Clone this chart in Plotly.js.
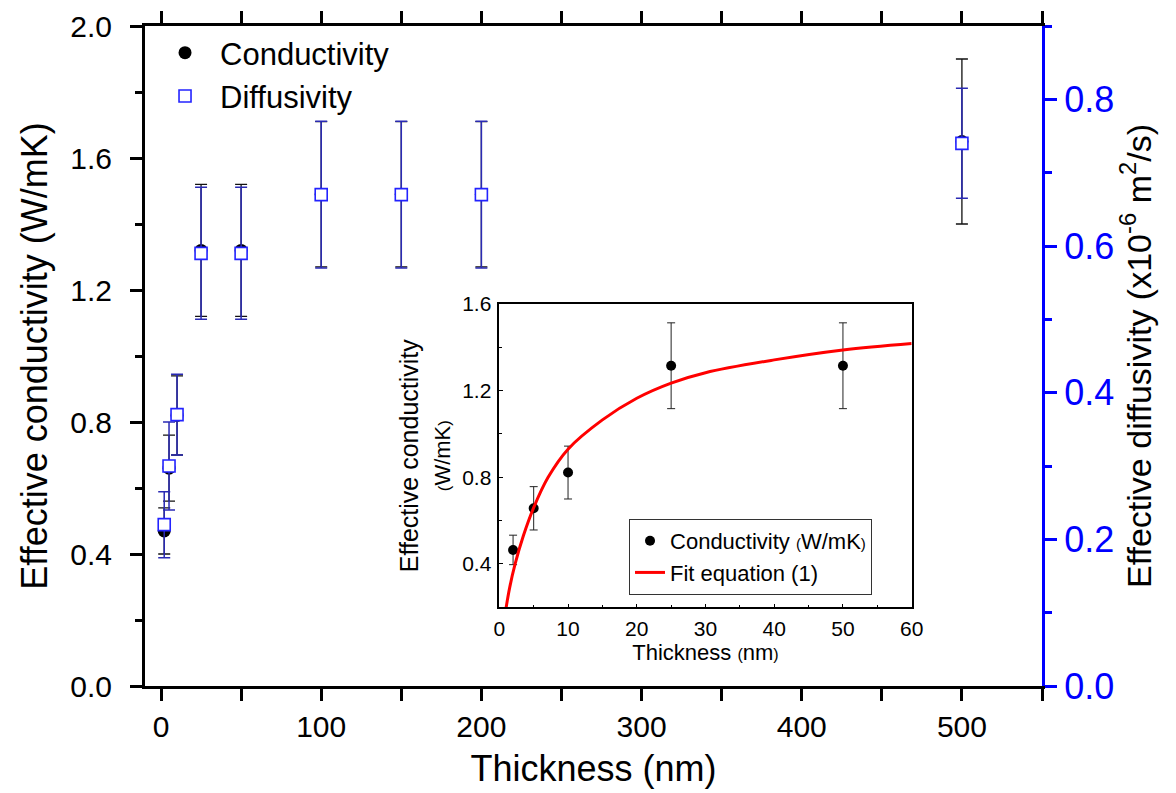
<!DOCTYPE html>
<html>
<head>
<meta charset="utf-8">
<script src="https://cdn.plot.ly/plotly-3.0.1.min.js"></script>
<style>
html,body{margin:0;padding:0;background:#fff;}
#chart{width:1176px;height:793px;}
</style>
</head>
<body>
<div id="chart"></div>
<script>
// ---- Main chart data ----
const thickness = [2, 5, 10, 25, 50, 100, 150, 200, 500];
const conductivity = [0.47, 0.66, 0.82, 1.32, 1.32, 1.49, 1.49, 1.49, 1.65];
const conductivityErr = [0.07, 0.10, 0.12, 0.20, 0.20, 0.22, 0.22, 0.22, 0.25];
const diffusivity = [0.22, 0.30, 0.37, 0.59, 0.59, 0.67, 0.67, 0.67, 0.74];
const diffusivityErr = [0.045, 0.06, 0.055, 0.09, 0.09, 0.10, 0.10, 0.10, 0.075];

// ---- Inset data ----
const insetThickness = [2, 5, 10, 25, 50];
const insetConductivity = [0.465, 0.657, 0.822, 1.315, 1.315];
const insetErr = [0.068, 0.10, 0.122, 0.198, 0.198];
const fitThickness = [1.0, 1.5, 2.3, 3.5, 5, 7.1, 10, 15, 20, 25, 30, 40, 50, 60];
const fitConductivity = [0.20, 0.29, 0.40, 0.53, 0.66, 0.80, 0.93, 1.065, 1.165, 1.235, 1.283, 1.342, 1.388, 1.418];

// ---- Tick labels ----
const xTicks = [0, 100, 200, 300, 400, 500];
const yLeftTicks = [0.0, 0.4, 0.8, 1.2, 1.6, 2.0];
const yRightTicks = [0.0, 0.2, 0.4, 0.6, 0.8];
const insetXTicks = [0, 10, 20, 30, 40, 50, 60];
const insetYTicks = [0.4, 0.8, 1.2, 1.6];

const FONT = '"Liberation Sans", Arial, sans-serif';
const sp = (t, s) => '<span style="font-size:' + s + 'px">' + t + '</span>';

const traces = [
  {
    x: thickness, y: conductivity, name: 'Conductivity', type: 'scatter', mode: 'markers',
    xaxis: 'x', yaxis: 'y', legend: 'legend',
    marker: {symbol: 'circle', size: 13, color: '#000'},
    error_y: {type: 'data', array: conductivityErr, visible: true, color: '#111', thickness: 1.3, width: 6}
  },
  {
    x: thickness, y: diffusivity, name: 'Diffusivity', type: 'scatter', mode: 'markers',
    xaxis: 'x', yaxis: 'y2', legend: 'legend',
    marker: {symbol: 'square', size: 12, color: '#fff', line: {color: '#2323ff', width: 1.6}},
    error_y: {type: 'data', array: diffusivityErr, visible: true, color: '#2a2ab4', thickness: 1.5, width: 6}
  },
  {
    x: insetThickness, y: insetConductivity, type: 'scatter', mode: 'markers',
    name: 'Conductivity ' + sp('(', 15) + 'W/mK' + sp(')', 15),
    xaxis: 'x2', yaxis: 'y3', legend: 'legend2',
    marker: {symbol: 'circle', size: 10, color: '#000'},
    error_y: {type: 'data', array: insetErr, visible: true, color: '#222', thickness: 1, width: 4}
  },
  {
    x: fitThickness, y: fitConductivity, type: 'scatter', mode: 'lines',
    name: 'Fit equation (1)',
    xaxis: 'x2', yaxis: 'y3', legend: 'legend2',
    line: {color: '#ff0000', width: 3, shape: 'spline'}
  }
];

const mainAxisCommon = {
  showgrid: false, zeroline: false, showline: true, linewidth: 3,
  ticks: 'outside', ticklen: 12, tickwidth: 2.5,
  tickfont: {family: FONT, size: 30, color: '#000'}
};

const layout = {
  width: 1176, height: 793,
  margin: {l: 145, r: 134, t: 26, b: 107},
  paper_bgcolor: '#fff', plot_bgcolor: '#fff',
  font: {family: FONT, color: '#000'},
  showlegend: true,
  xaxis: Object.assign({}, mainAxisCommon, {
    range: [-10, 550], linecolor: '#000', tickcolor: '#000', mirror: 'allticks',
    tickmode: 'array', tickvals: xTicks, ticktext: xTicks.map(String),
    minor: {dtick: 50, tick0: 0, ticks: 'outside', ticklen: 7, tickwidth: 2.5, tickcolor: '#000'},
    ticklabelstandoff: 0,
    title: {text: 'Thickness (nm)', font: {family: FONT, size: 36, color: '#000'}, standoff: 14}
  }),
  yaxis: Object.assign({}, mainAxisCommon, {
    range: [0, 2.0], linecolor: '#000', tickcolor: '#000',
    tickmode: 'array', tickvals: yLeftTicks, ticktext: yLeftTicks.map(v => v.toFixed(1)),
    minor: {dtick: 0.2, tick0: 0, ticks: 'outside', ticklen: 7, tickwidth: 2.5, tickcolor: '#000'},
    ticklabelstandoff: 12,
    title: {text: 'Effective conductivity (W/mK)', font: {family: FONT, size: 36, color: '#000'}, standoff: 12}
  }),
  yaxis2: Object.assign({}, mainAxisCommon, {
    range: [0, 0.9], overlaying: 'y', side: 'right', anchor: 'x',
    linecolor: '#0000ff', tickcolor: '#0000ff',
    tickfont: {family: FONT, size: 36, color: '#0000ff'},
    tickmode: 'array', tickvals: yRightTicks, ticktext: yRightTicks.map(v => v.toFixed(1)),
    minor: {dtick: 0.1, tick0: 0, ticks: 'outside', ticklen: 7, tickwidth: 2.5, tickcolor: '#0000ff'},
    ticklabelstandoff: 0,
    title: {text: 'Effective diffusivity (x10<sup>-6</sup> m<sup>2</sup>/s)', font: {family: FONT, size: 34, color: '#000'}, standoff: 12}
  }),
  xaxis2: {
    domain: [0.395, 0.8547], anchor: 'y3', range: [0, 60],
    showgrid: false, zeroline: false, showline: true, linewidth: 1.5, linecolor: '#000', mirror: true,
    ticks: 'inside', ticklen: 4, tickwidth: 1.2, tickcolor: '#000',
    tickmode: 'array', tickvals: insetXTicks, ticktext: insetXTicks.map(String),
    minor: {dtick: 5, tick0: 0, ticks: 'inside', ticklen: 3, tickwidth: 1.2, tickcolor: '#000'},
    tickfont: {family: FONT, size: 21, color: '#000'},
    ticklabelstandoff: 2,
    title: {text: 'Thickness ' + sp('(', 16) + 'nm' + sp(')', 16), font: {family: FONT, size: 22, color: '#000'}, standoff: 2}
  },
  yaxis3: {
    domain: [0.1192, 0.5788], anchor: 'x2', range: [0.2, 1.6],
    showgrid: false, zeroline: false, showline: true, linewidth: 1.5, linecolor: '#000', mirror: true,
    ticks: 'inside', ticklen: 4, tickwidth: 1.2, tickcolor: '#000',
    tickmode: 'array', tickvals: insetYTicks, ticktext: insetYTicks.map(v => v.toFixed(1)),
    minor: {dtick: 0.2, tick0: 0.2, ticks: 'inside', ticklen: 3, tickwidth: 1.2, tickcolor: '#000'},
    tickfont: {family: FONT, size: 21, color: '#000'},
    ticklabelstandoff: 2,
    title: {text: 'Effective conductivity<br>' + sp('(', 17) + sp('W/mK', 22) + sp(')', 17), font: {family: FONT, size: 25, color: '#000'}, standoff: 4}
  },
  legend: {
    x: 0.0056, y: 1.0, xanchor: 'left', yanchor: 'top',
    bgcolor: 'rgba(0,0,0,0)', borderwidth: 0, itemwidth: 60,
    font: {family: FONT, size: 31, color: '#000'}
  },
  legend2: {
    x: 0.5396, y: 0.253, xanchor: 'left', yanchor: 'top',
    bgcolor: '#fff', bordercolor: '#333', borderwidth: 1,
    font: {family: FONT, size: 22, color: '#000'}
  }
};

Plotly.newPlot('chart', traces, layout, {displayModeBar: false, responsive: false});
</script>
</body>
</html>
